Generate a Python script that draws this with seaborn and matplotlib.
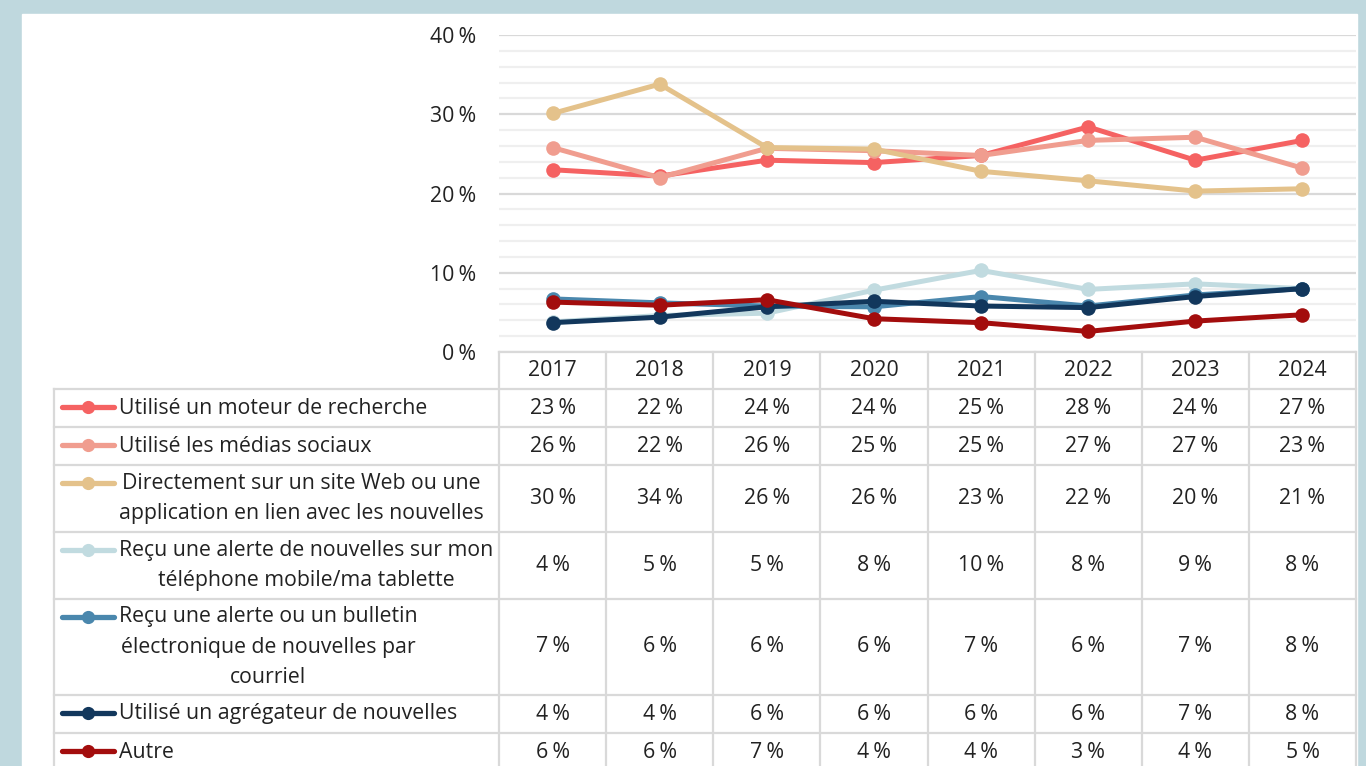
import numpy as np
import pandas as pd
import seaborn as sns
import matplotlib.pyplot as plt
from matplotlib.patches import Rectangle
from matplotlib.ticker import MultipleLocator, FuncFormatter

annees = [2017, 2018, 2019, 2020, 2021, 2022, 2023, 2024]
series = [
    "Utilisé un moteur de recherche",
    "Utilisé les médias sociaux",
    "Directement sur un site Web ou une\napplication en lien avec les nouvelles",
    "Reçu une alerte de nouvelles sur mon\ntéléphone mobile/ma tablette",
    "Reçu une alerte ou un bulletin\nélectronique de nouvelles par\ncourriel",
    "Utilisé un agrégateur de nouvelles",
    "Autre",
]
moteur = [23.0, 22.2, 24.2, 23.9, 24.8, 28.4, 24.2, 26.7]
medias = [25.8, 22.0, 25.7, 25.4, 24.8, 26.7, 27.1, 23.2]
site_web = [30.1, 33.8, 25.8, 25.6, 22.8, 21.6, 20.3, 20.6]
alerte_mobile = [3.8, 4.6, 4.9, 7.8, 10.3, 7.9, 8.6, 8.0]
bulletin = [6.7, 6.2, 5.8, 5.7, 7.0, 5.8, 7.2, 8.0]
agregateur = [3.7, 4.4, 5.7, 6.4, 5.8, 5.6, 7.0, 8.0]
autre = [6.3, 5.9, 6.6, 4.2, 3.7, 2.6, 3.9, 4.7]
valeurs = [moteur, medias, site_web, alerte_mobile, bulletin, agregateur, autre]
couleurs = ["#f56262", "#f09d8f", "#e4c28b", "#c1dbe0", "#4a87ad", "#12375c", "#a30d0d"]

df = pd.DataFrame([
    {"annee": a, "valeur": v, "serie": s}
    for s, vals in zip(series, valeurs) for a, v in zip(annees, vals)
])

plt.rcParams['font.family'] = ['Open Sans', 'DejaVu Sans']
FS = 15.3
TXT = "#222222"
GRILLE = "#d9d9d9"

W, H = 1366, 766
fig = plt.figure(figsize=(W / 100, H / 100), dpi=100, facecolor="#bfd8de")
fig.add_artist(Rectangle((22 / W, 0), (1357 - 22) / W, (H - 14) / H,
                         transform=fig.transFigure, color="white", zorder=0))

# table area in pixel coordinates
tax = fig.add_axes([0, 0, 1, 1])
tax.set_xlim(0, W)
tax.set_ylim(H, 0)
tax.axis("off")
tax.patch.set_alpha(0)

# chart
ax = fig.add_axes([499 / W, (H - 352) / H, (1356 - 499) / W, (352 - 35) / H])
ax.patch.set_alpha(0)
sns.lineplot(data=df, x="annee", y="valeur", hue="serie", hue_order=series,
             palette=couleurs, marker="o", markersize=10.5, markeredgewidth=0,
             linewidth=3.6, legend=False, ax=ax)
ax.set_xlim(annees[0] - 0.5, annees[-1] + 0.5)
ax.set_ylim(0, 40)
ax.yaxis.set_major_locator(MultipleLocator(10))
ax.yaxis.set_minor_locator(MultipleLocator(2))
ax.yaxis.set_major_formatter(FuncFormatter(lambda v, p: f"{v:.0f}\u202f%"))
ax.grid(which="major", axis="y", color=GRILLE, lw=1.6)
ax.grid(which="minor", axis="y", color="#efefef", lw=1.6)
ax.set_axisbelow(True)
ax.tick_params(axis="y", which="both", length=0, pad=16.5, labelsize=FS, labelcolor=TXT)
ax.set_xticks([])
ax.set_xlabel("")
ax.set_ylabel("")
for sp in ax.spines.values():
    sp.set_visible(False)

# column geometry from the chart's x scale
centres = [ax.transData.transform((a, 0))[0] for a in annees]
bords = [ax.transData.transform((a - 0.5, 0))[0] for a in annees] + \
        [ax.transData.transform((annees[-1] + 0.5, 0))[0]]
gauche = 54
haut = 352
y_entete = 389
nb_lignes = [s.count("\n") + 1 for s in series]
hauteurs = [38 + 29 * (n - 1) for n in nb_lignes]
y_rangs = [y_entete]
for h in hauteurs:
    y_rangs.append(y_rangs[-1] + h)

lw_t = 1.6
tax.plot([bords[0], bords[-1]], [haut, haut], color=GRILLE, lw=lw_t)
for y in y_rangs:
    tax.plot([gauche, bords[-1]], [y, y], color=GRILLE, lw=lw_t)
for x in bords:
    tax.plot([x, x], [haut, y_rangs[-1]], color=GRILLE, lw=lw_t)
tax.plot([gauche, gauche], [y_entete, y_rangs[-1]], color=GRILLE, lw=lw_t)

for c, a in zip(centres, annees):
    tax.text(c, (haut + y_entete) / 2, str(a), ha="center", va="center",
             fontsize=FS, color=TXT)

for i, (s, vals, col) in enumerate(zip(series, valeurs, couleurs)):
    y0, y1 = y_rangs[i], y_rangs[i + 1]
    ym = (y0 + y1) / 2
    y_premiere = y0 + 18
    tax.plot([62, 114], [y_premiere, y_premiere], color=col, lw=3.8,
             solid_capstyle="round")
    tax.plot([88], [y_premiere], "o", color=col, ms=9.5, mew=0)
    tax.text(119, ym, s, ha="left", va="center", multialignment="center",
             fontsize=FS, color=TXT, linespacing=1.6)
    for c, v in zip(centres, vals):
        tax.text(c, ym, f"{v:.0f}\u202f%", ha="center", va="center",
                 fontsize=FS, color=TXT)

fig.savefig("out.png", dpi=100, facecolor=fig.get_facecolor())
